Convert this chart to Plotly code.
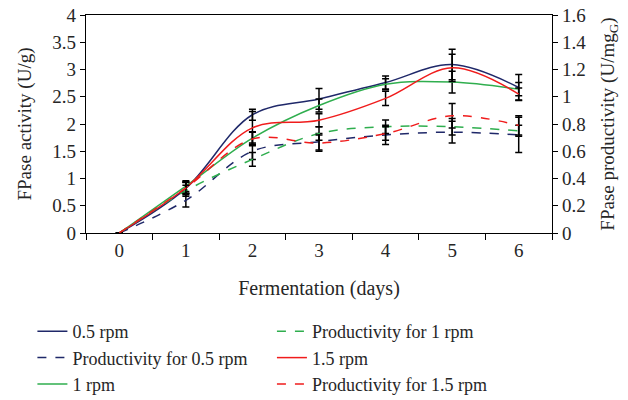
import plotly.graph_objects as go

days = [0, 1, 2, 3, 4, 5, 6]

act_05 = [0, 0.82, 2.17, 2.46, 2.76, 3.09, 2.67]
act_1 = [0, 0.86, 1.74, 2.34, 2.73, 2.77, 2.64]
act_15 = [0, 0.83, 1.93, 2.07, 2.47, 3.03, 2.55]

prod_05 = [0, 0.24, 0.60, 0.67, 0.72, 0.74, 0.72]
prod_1 = [0, 0.31, 0.54, 0.73, 0.78, 0.78, 0.75]
prod_15 = [0, 0.33, 0.69, 0.66, 0.73, 0.86, 0.79]

err_act_05 = [0, 0.12, 0.10, 0.19, 0.12, 0.28, 0.24]
err_act_1 = [0, 0.10, 0.12, 0.12, 0.10, 0.20, 0.12]
err_act_15 = [0, 0.10, 0.30, 0.12, 0.13, 0.25, 0.11]
err_prod_05 = [0, 0.05, 0.06, 0.06, 0.07, 0.08, 0.13]
err_prod_1 = [0, 0.04, 0.05, 0.05, 0.05, 0.06, 0.04]
err_prod_15 = [0, 0.04, 0.05, 0.06, 0.05, 0.09, 0.07]

navy = "#1f2869"
green = "#2fae4e"
red = "#f01c1c"
FONT = "Liberation Serif"
TXT = "#262626"

fig = go.Figure()

def eb(arr):
    return dict(type="data", array=arr, color="black", thickness=1.5, width=3.5)

def add(name, y, err, color, dash, yaxis, legend):
    fig.add_trace(go.Scatter(
        x=days, y=y, name=name, mode="lines", yaxis=yaxis, legend=legend,
        line=dict(color=color, width=1.5, dash=dash, shape="spline", smoothing=1.0),
        error_y=eb(err), legendgroup=name,
    ))

add("0.5 rpm", act_05, err_act_05, navy, "solid", "y", "legend")
add("Productivity for 0.5 rpm", prod_05, err_prod_05, navy, "dash", "y2", "legend")
add("1 rpm", act_1, err_act_1, green, "solid", "y", "legend")
add("Productivity for 1 rpm", prod_1, err_prod_1, green, "dash", "y2", "legend2")
add("1.5 rpm", act_15, err_act_15, red, "solid", "y", "legend2")
add("Productivity for 1.5 rpm", prod_15, err_prod_15, red, "dash", "y2", "legend2")

axis_common = dict(
    showline=True, linecolor="black", linewidth=1.2, showgrid=False, zeroline=False,
    ticks="outside", ticklen=5, tickcolor="black", tickwidth=1.2,
    ticklabeloverflow="allow",
    tickfont=dict(family=FONT, size=19, color=TXT),
)

leg_common = dict(
    orientation="v", xanchor="left", yanchor="top", bgcolor="rgba(0,0,0,0)",
    font=dict(family=FONT, size=18, color=TXT), tracegroupgap=3,
    traceorder="normal", itemwidth=30,
)

# plot area height = 400 - 7 - 175 = 218
PH = 218.0
LEG_TOP = 305.0  # legend top in figure px
leg_y = (400 - 175 - LEG_TOP) / PH

fig.update_layout(
    width=628, height=400,
    margin=dict(l=78, r=84, t=7, b=175, autoexpand=False),
    paper_bgcolor="white", plot_bgcolor="white",
    showlegend=True,
    xaxis=dict(
        range=[-0.5, 6.5], tickvals=days, ticktext=[str(d) for d in days],
        showline=True, linecolor="black", linewidth=1.2, mirror=True,
        showgrid=False, zeroline=False, ticks="", ticklen=0,
        tickfont=dict(family=FONT, size=19, color=TXT),
        minor=dict(tick0=0.5, dtick=1, ticks="outside", ticklen=6, tickcolor="black", tickwidth=1.2, showgrid=False),
        title=dict(text="Fermentation (days)", font=dict(family=FONT, size=20, color=TXT), standoff=21),
    ),
    yaxis=dict(
        range=[0, 4], dtick=0.5, **axis_common,
        title=dict(text="FPase activity (U/g)", font=dict(family=FONT, size=19, color=TXT)),
    ),
    yaxis2=dict(
        range=[0, 1.6], dtick=0.2, overlaying="y", side="right", **axis_common,
        title=dict(text="FPase productivity (U/mg<sub>G</sub>)", font=dict(family=FONT, size=19, color=TXT)),
    ),
    legend=dict(x=-0.115, y=leg_y, **leg_common),
    legend2=dict(x=0.399, y=leg_y, **leg_common),
)

fig.write_html("out.html")
